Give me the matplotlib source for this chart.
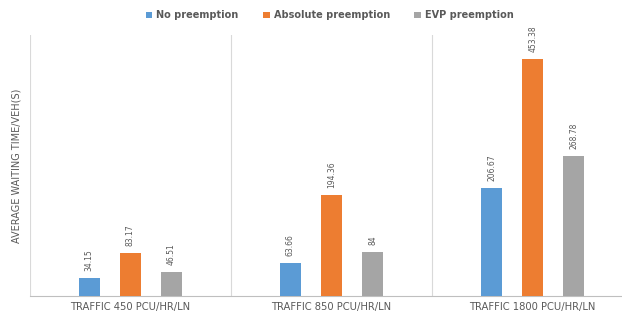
import numpy as np
import matplotlib.pyplot as plt

categories = ["TRAFFIC 450 PCU/HR/LN", "TRAFFIC 850 PCU/HR/LN", "TRAFFIC 1800 PCU/HR/LN"]
series_names = ["No preemption", "Absolute preemption", "EVP preemption"]
no_preemption = [34.15, 63.66, 206.67]
absolute_preemption = [83.17, 194.36, 453.38]
evp_preemption = [46.51, 84, 268.78]
value_labels = [["34.15", "63.66", "206.67"],
                 ["83.17", "194.36", "453.38"],
                 ["46.51", "84", "268.78"]]
colors = ["#5B9BD5", "#ED7D31", "#A5A5A5"]

fig = plt.figure(figsize=(6.22, 3.18), dpi=100)
# plot area runs a little past the right edge (cropped in the source)
ax = fig.add_axes([0.048, 0.069, 0.97, 0.821])

x = np.arange(len(categories))
width = 0.105
offsets = [-0.204, 0, 0.204]
for vals, labs, off, col, name in zip(
        [no_preemption, absolute_preemption, evp_preemption],
        value_labels, offsets, colors, series_names):
    bars = ax.bar(x + off, vals, width, color=col, label=name, zorder=3)
    for b, lab in zip(bars, labs):
        ax.annotate(lab, (b.get_x() + b.get_width() / 2, b.get_height()),
                    xytext=(0, 5), textcoords="offset points",
                    rotation=90, ha="center", va="bottom",
                    fontsize=5.5, color="#595959")

ax.set_xlim(-0.5, 2.5)
ax.set_ylim(0, 500)
# category separators
for s in [-0.5, 0.5, 1.5, 2.5]:
    ax.axvline(s, color="#D9D9D9", lw=0.8, zorder=1)
for sp in ["top", "right", "left"]:
    ax.spines[sp].set_visible(False)
ax.spines["bottom"].set_color("#BFBFBF")
ax.spines["bottom"].set_linewidth(0.8)
ax.set_yticks([])
ax.set_xticks(x)
ax.set_xticklabels(categories, fontsize=7.2, color="#595959")
ax.tick_params(axis="x", length=0, pad=4)
ax.set_ylabel("AVERAGE WAITING TIME/VEH(S)", fontsize=7, color="#595959", labelpad=6)

fig.legend(loc="upper center", bbox_to_anchor=(0.53, 0.995), ncol=3,
           frameon=False, handlelength=0.7, handleheight=0.7,
           columnspacing=2.5, handletextpad=0.4,
           prop={"size": 7, "weight": "bold"}, labelcolor="#595959")

fig.savefig("out.png", dpi=100)
